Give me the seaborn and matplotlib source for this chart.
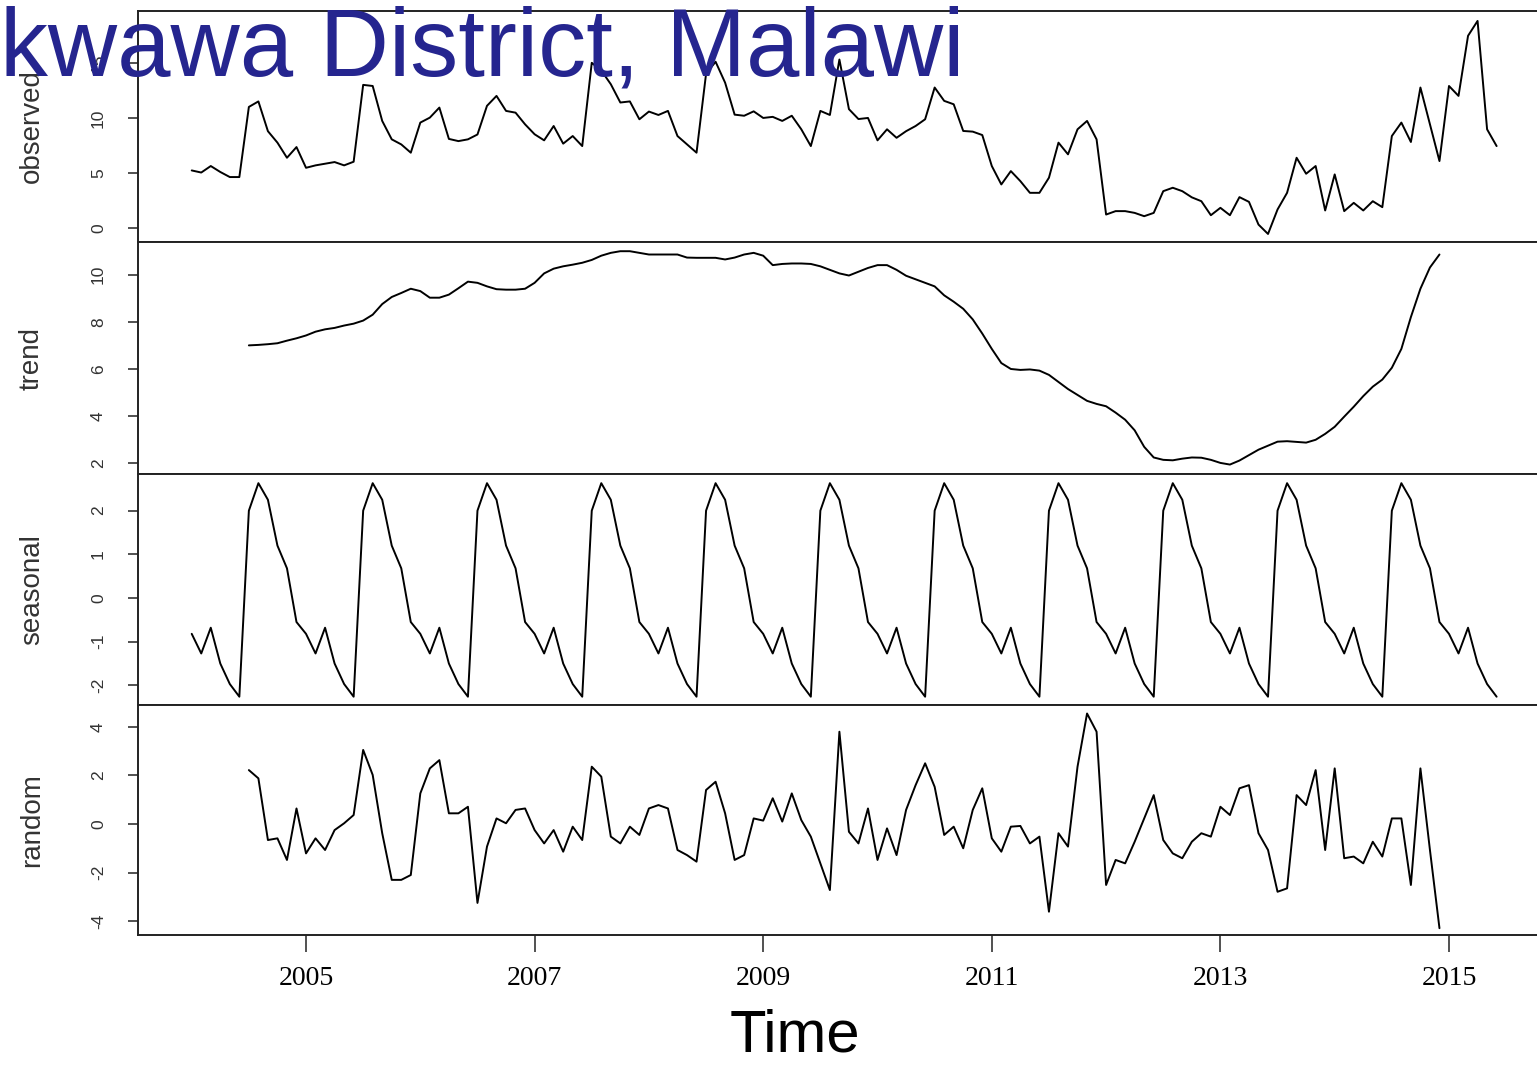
import numpy as np
import pandas as pd
import matplotlib
matplotlib.use("Agg")
import matplotlib.pyplot as plt
import seaborn as sns

# ---------------- data ----------------
start_year = 2004  # monthly series, Jan 2004 .. Jun 2015

observed = [5.24, 5.05, 5.64, 5.10, 4.64, 4.64, 11.0, 11.5, 8.8, 7.76, 6.39, 7.36,
            5.48, 5.70, 5.85, 6.00, 5.70, 6.03, 13.0, 12.9, 9.73, 8.06, 7.60, 6.85,
            9.58, 10.03, 10.94, 8.10, 7.90, 8.06, 8.50, 11.1, 12.0, 10.64, 10.48, 9.42,
            8.52, 7.97, 9.27, 7.67, 8.36, 7.45, 15.0, 14.3, 13.06, 11.4, 11.5, 9.88,
            10.58, 10.27, 10.64, 8.36, 7.60, 6.85, 14.0, 15.1, 13.2, 10.3, 10.2, 10.6,
            10.0, 10.1, 9.73, 10.2, 8.97, 7.45, 10.64, 10.27, 15.3, 10.8, 9.9, 10.0,
            7.97, 8.97, 8.20, 8.80, 9.27, 9.88, 12.76, 11.55, 11.24, 8.82, 8.76, 8.45,
            5.64, 3.97, 5.18, 4.27, 3.21, 3.21, 4.58, 7.76, 6.70, 8.97, 9.73, 8.06,
            1.24, 1.55, 1.55, 1.39, 1.09, 1.39, 3.36, 3.67, 3.36, 2.80, 2.45, 1.18,
            1.85, 1.18, 2.82, 2.39, 0.33, -0.52, 1.70, 3.21, 6.39, 4.94, 5.64, 1.61,
            4.88, 1.55, 2.30, 1.61, 2.45, 1.91, 8.36, 9.58, 7.82, 12.76, 9.42, 6.09,
            12.9, 12.0, 17.45, 18.8, 8.97, 7.45]

# trend and random: Jul 2004 .. Dec 2014 (moving average loses 6 months each end)
trend = [7.00, 7.02, 7.05, 7.09, 7.20, 7.30, 7.42, 7.58, 7.68, 7.74, 7.84, 7.92,
         8.05, 8.30, 8.75, 9.05, 9.22, 9.40, 9.30, 9.02, 9.02, 9.15, 9.42, 9.70,
         9.65, 9.50, 9.38, 9.36, 9.36, 9.40, 9.65, 10.05, 10.25, 10.35, 10.42, 10.50,
         10.62, 10.80, 10.92, 10.99, 10.99, 10.92, 10.85, 10.85, 10.85, 10.85, 10.72, 10.71,
         10.71, 10.71, 10.64, 10.72, 10.85, 10.92, 10.80, 10.40, 10.45, 10.47, 10.47, 10.45,
         10.35, 10.20, 10.05, 9.96, 10.12, 10.28, 10.40, 10.40, 10.20, 9.95, 9.80, 9.65,
         9.50, 9.12, 8.85, 8.55, 8.10, 7.50, 6.85, 6.25, 6.00, 5.96, 5.98, 5.93,
         5.75, 5.45, 5.15, 4.90, 4.65, 4.52, 4.42, 4.15, 3.85, 3.40, 2.70, 2.25,
         2.15, 2.13, 2.20, 2.25, 2.24, 2.15, 2.02, 1.95, 2.12, 2.35, 2.58, 2.75,
         2.92, 2.94, 2.91, 2.88, 3.00, 3.25, 3.55, 3.98, 4.40, 4.85, 5.25, 5.55,
         6.05, 6.85, 8.20, 9.40, 10.30, 10.85]

seasonal_pattern = [-0.82, -1.27, -0.68, -1.50, -1.97, -2.26,
                    2.00, 2.63, 2.25, 1.20, 0.68, -0.55]  # Jan..Dec

random = [2.22, 1.88, -0.66, -0.59, -1.48, 0.64, -1.21, -0.59, -1.07, -0.25, 0.03, 0.37,
          3.05, 2.02, -0.38, -2.30, -2.30, -2.10, 1.26, 2.29, 2.63, 0.44, 0.44, 0.71,
          -3.25, -0.93, 0.23, 0.03, 0.58, 0.64, -0.25, -0.80, -0.25, -1.14, -0.11, -0.66,
          2.36, 1.95, -0.52, -0.80, -0.11, -0.45, 0.64, 0.78, 0.64, -1.07, -1.28, -1.55,
          1.40, 1.74, 0.44, -1.48, -1.28, 0.23, 0.14, 1.06, 0.10, 1.26, 0.16, -0.52,
          -1.62, -2.72, 3.80, -0.32, -0.80, 0.64, -1.48, -0.18, -1.28, 0.58, 1.60, 2.50,
          1.53, -0.45, -0.11, -1.00, 0.58, 1.47, -0.59, -1.14, -0.11, -0.08, -0.80, -0.52,
          -3.61, -0.38, -0.93, 2.36, 4.55, 3.80, -2.51, -1.48, -1.62, -0.73, 0.23, 1.19,
          -0.66, -1.21, -1.41, -0.73, -0.38, -0.52, 0.71, 0.37, 1.47, 1.60, -0.38, -1.07,
          -2.79, -2.65, 1.19, 0.78, 2.22, -1.07, 2.29, -1.41, -1.34, -1.62, -0.73, -1.34,
          0.23, 0.23, -2.51, 2.29, -1.07, -4.29]

panel_labels = ["observed", "trend", "seasonal", "random"]
panel_ticks = [[0, 5, 10, 15], [2, 4, 6, 8, 10], [-2, -1, 0, 1, 2], [-4, -2, 0, 2, 4]]
panel_ylims = [(-1.25, 19.7), (1.55, 11.38), (-2.45, 2.84), (-4.57, 4.9)]
year_ticks = [2005, 2007, 2009, 2011, 2013, 2015]
title_text = "kwawa District, Malawi"
xlabel_text = "Time"

# ---------------- build table ----------------
n = len(observed)
time = start_year + np.arange(n) / 12.0
pad = [np.nan] * 6
df = pd.DataFrame({
    "time": time,
    "observed": observed,
    "trend": pad + trend + pad,
    "seasonal": np.tile(seasonal_pattern, n // 12 + 1)[:n],
    "random": pad + random + pad,
})

# ---------------- style ----------------
sns.set_theme(style="ticks")
plt.rcParams["font.family"] = ["Liberation Sans", "DejaVu Sans"]

W, H = 1537, 1067
fig = plt.figure(figsize=(W / 100, H / 100), dpi=100)
fig.patch.set_facecolor("white")

left_px = 138
panel_edges = [11, 242, 474, 705, 935]
x_left, x_right = 2003.530, 2015.770

axes = []
for i, comp in enumerate(panel_labels):
    top, bot = panel_edges[i], panel_edges[i + 1]
    ax = fig.add_axes([left_px / W, 1 - bot / H, 1 - left_px / W, (bot - top) / H])
    axes.append(ax)
    sns.lineplot(data=df, x="time", y=comp, ax=ax, color="black",
                 linewidth=1.4, errorbar=None)
    ax.set_xlim(x_left, x_right)
    ax.set_ylim(*panel_ylims[i])
    ax.set_yticks(panel_ticks[i])
    ax.set_yticklabels([str(v) for v in panel_ticks[i]])
    ax.tick_params(axis="y", direction="out", length=7, width=1.1,
                   labelsize=12.5, labelrotation=90, pad=16,
                   labelcolor="#333333", color="#222222")
    for lab in ax.get_yticklabels():
        lab.set_verticalalignment("center")
    ax.set_ylabel(comp, fontsize=20, color="#333333", va="center")
    ax.yaxis.set_label_coords((32 - left_px) / (W - left_px), 0.5)
    for s in ["top", "left", "bottom"]:
        ax.spines[s].set_visible(True)
        ax.spines[s].set_color("#222222")
        ax.spines[s].set_linewidth(1.4)
    ax.spines["right"].set_visible(False)
    ax.set_facecolor("white")
    if i < 3:
        ax.tick_params(axis="x", bottom=False, labelbottom=False)
        ax.set_xlabel("")
    else:
        ax.set_xticks(year_ticks)
        ax.set_xticklabels([str(y) for y in year_ticks])
        ax.tick_params(axis="x", direction="out", length=12, width=1.1,
                       pad=10, color="#222222")
        for lab in ax.get_xticklabels():
            lab.set_fontfamily(["Liberation Serif", "DejaVu Serif"])
            lab.set_fontsize(20)
            lab.set_color("black")
        ax.set_xlabel(xlabel_text, fontsize=43, color="black", va="center")
        ax.xaxis.set_label_coords((795 - left_px) / (W - left_px),
                                  (935 - 1036) / (935 - 705))

fig.text(0.0, 1 - 75 / H, title_text, fontsize=69, color="#25258F",
         ha="left", va="baseline", zorder=10)

fig.savefig("out.png", dpi=100, facecolor="white")
